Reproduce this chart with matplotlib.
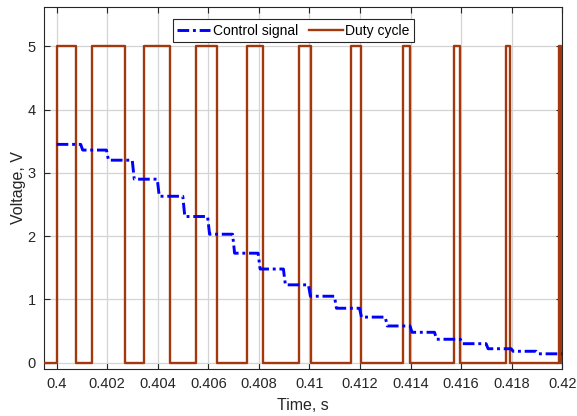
import numpy as np
import matplotlib
matplotlib.use("Agg")
import matplotlib.pyplot as plt

plt.rcParams["font.family"] = ["Liberation Sans", "DejaVu Sans"]

# PWM output: rising / falling edge times (s), high level 5 V
rise_t = [0.40000, 0.40139, 0.40345, 0.40553, 0.40753, 0.40959,
          0.41165, 0.41371, 0.41573, 0.41779, 0.41988]
fall_t = [0.40077, 0.40271, 0.40450, 0.40633, 0.40818, 0.41006,
          0.41205, 0.41397, 0.41594, 0.41792, 0.41997]
v_high = 5.0

# control signal: staircase, level changes once per sample period
ctrl_t = [0.40000, 0.40095, 0.40197, 0.40299, 0.40398, 0.40499, 0.40597,
          0.40696, 0.40797, 0.40897, 0.40996, 0.41099, 0.41198, 0.41300,
          0.41398, 0.41495, 0.41597, 0.41699, 0.41798, 0.41897]
ctrl_v = [3.45, 3.36, 3.20, 2.90, 2.63, 2.31, 2.03, 1.73, 1.48, 1.23,
          1.05, 0.86, 0.72, 0.58, 0.48, 0.37, 0.30, 0.22, 0.18, 0.14]
t_end = 0.42

BLUE = "#0000ff"
BROWN = "#a2380b"
INK = "#262626"


def pwm_trace(rises, falls, hi, t0, t1):
    t, v = [t0], [0.0]
    for r, f in zip(rises, falls):
        t += [r, r, f, f]
        v += [0.0, hi, hi, 0.0]
    t.append(t1); v.append(0.0)
    return t, v


def stair_trace(ts, vs, t1, ramp=0.00008):
    t, v = [ts[0]], [vs[0]]
    for i in range(1, len(ts)):
        t += [ts[i], ts[i] + ramp]
        v += [vs[i - 1], vs[i]]
    t.append(t1); v.append(vs[-1])
    return t, v


fig = plt.figure(figsize=(5.77, 4.16), dpi=100)
ax = fig.add_axes([0.0763, 0.113, 0.898, 0.870])

dt, dv = pwm_trace(rise_t, fall_t, v_high, 0.3995, t_end)
ct, cv = stair_trace(ctrl_t, ctrl_v, t_end)

ax.plot(ct, cv, color=BLUE, lw=2.1, dashes=(4, 1.3, 1, 1.3),
        label="Control signal", zorder=4)
ax.plot(dt, dv, color=BROWN, lw=1.7, label="Duty cycle", zorder=3)

ax.set_xlim(0.3995, 0.42)
ax.set_ylim(-0.1, 5.62)
ax.set_xticks(np.round(np.arange(0.4, 0.4201, 0.002), 3))
ax.set_xticklabels(["0.4", "0.402", "0.404", "0.406", "0.408", "0.41",
                    "0.412", "0.414", "0.416", "0.418", "0.42"])
ax.set_yticks(range(6))

ax.grid(True, color="#d4d4d4", lw=0.9)
ax.set_axisbelow(True)
for s in ax.spines.values():
    s.set_color(INK)
    s.set_linewidth(0.8)
ax.tick_params(direction="in", length=4, color=INK, labelcolor=INK,
               labelsize=10.5, top=True, right=True, pad=6)

ax.set_xlabel("Time, s", fontsize=11.5, color=INK, labelpad=5)
ax.set_ylabel("Voltage, V", fontsize=11.5, color=INK, labelpad=1)

leg = ax.legend(loc="upper center", bbox_to_anchor=(0.481, 0.966), ncol=2,
                fontsize=10, frameon=True, fancybox=False, framealpha=1,
                edgecolor=INK, handlelength=2.4, handletextpad=0.2,
                columnspacing=0.8, borderpad=0.3, borderaxespad=0)
leg.get_frame().set_linewidth(0.8)

fig.savefig("out.png", dpi=100)
